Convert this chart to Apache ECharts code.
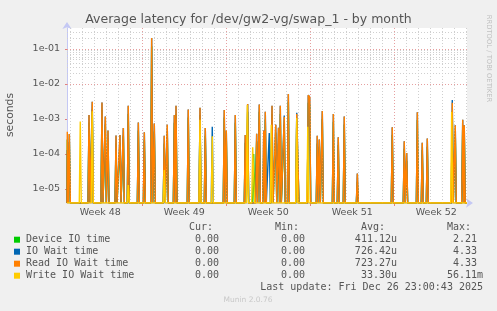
<!DOCTYPE html>
<html><head><meta charset="utf-8">
<script src="https://cdn.jsdelivr.net/npm/echarts@6/dist/echarts.min.js"></script>
<style>html,body{margin:0;padding:0;background:#f0f0f0;}#c{width:497px;height:311px;}</style>
</head><body><div id="c"></div>
<script>
// ---- texts ----
const TITLE = 'Average latency for /dev/gw2-vg/swap_1 - by month';
const Y_NAME = 'seconds';
const SIDE_TEXT = 'RRDTOOL / TOBI OETIKER';
const FOOTER = 'Munin 2.0.76';
const LAST_UPDATE = 'Last update: Fri Dec 26 23:00:43 2025';

// ---- x axis (days since Monday of week 48) ----
const X_MIN = 0.725, X_MAX = 34.058;
const weekLabels = ['Week 48', 'Week 49', 'Week 50', 'Week 51', 'Week 52'];
const weekLabelPos = [3.5, 10.5, 17.5, 24.5, 31.5];
const weekBoundaries = [7, 14, 21, 28];
const dayLines = [1, 2, 3, 4, 5, 6, 8, 9, 10, 11, 12, 13, 15, 16, 17, 18, 19, 20, 22, 23, 24, 25, 26, 27, 29, 30, 31, 32, 33, 34];

// ---- y axis (log) ----
const Y_MIN = 3.981e-6, Y_MAX = 0.3981;
const yTickValues = [1e-5, 1e-4, 1e-3, 1e-2, 1e-1];
const yTickLabels = ['1e-05', '1e-04', '1e-03', '1e-02', '1e-01'];
const yMinorLines = [5e-6, 6e-6, 7e-6, 8e-6, 9e-6,
  2e-5, 3e-5, 4e-5, 5e-5, 6e-5, 7e-5, 8e-5, 9e-5,
  2e-4, 3e-4, 4e-4, 5e-4, 6e-4, 7e-4, 8e-4, 9e-4,
  2e-3, 3e-3, 4e-3, 5e-3, 6e-3, 7e-3, 8e-3, 9e-3,
  2e-2, 3e-2, 4e-2, 5e-2, 6e-2, 7e-2, 8e-2, 9e-2,
  2e-1, 3e-1];

// ---- series (non-zero samples; all other samples are 0) ----
const readDays = [0.75, 0.92, 2.56, 2.83, 3.64, 3.92, 4.14, 4.81, 5.14, 5.42,
  5.83, 6.67, 7.17, 7.78, 8.00, 8.83, 9.08, 9.67, 9.81, 10.83,
  11.81, 12.25, 13.83, 14.00, 14.75, 15.58, 15.78, 16.53, 16.75, 17.12,
  17.25, 17.81, 18.12, 18.35, 18.50, 18.83, 19.17, 19.87, 19.97, 20.83,
  20.95, 21.58, 21.75, 22.00, 22.92, 23.33, 23.83, 24.92, 27.83, 28.83,
  29.03, 29.92, 30.33, 30.75, 32.83, 33.08, 33.70, 33.83];
const readVals = [4.3e-4, 3.7e-4, 1.3e-3, 3.1e-3, 2.95e-3, 1.17e-3, 4.7e-4, 3.4e-4, 3.5e-4, 5.5e-4,
  2.4e-3, 7.9e-4, 4.2e-4, 0.205, 7.4e-4, 3.3e-4, 6.9e-4, 1.3e-3, 2.4e-3, 1.86e-3,
  2.1e-3, 5.5e-4, 1.8e-3, 4.7e-4, 1.3e-3, 3.5e-4, 2.7e-3, 3.8e-4, 2.6e-3, 4.7e-4,
  1.6e-3, 2.4e-3, 6.9e-4, 5.6e-4, 2.4e-3, 1.15e-3, 5.2e-3, 1.4e-3, 1.4e-3, 4.8e-3,
  4.2e-3, 3.3e-4, 2.6e-4, 1.7e-3, 1.4e-3, 3.0e-4, 1.17e-3, 2.75e-5, 5.8e-4, 2.3e-4,
  1.07e-4, 1.55e-3, 2.1e-4, 2.75e-4, 2.9e-3, 6.6e-4, 9.5e-4, 6.6e-4];

const deviceDays = [0.75, 0.92, 2.56, 2.83, 3.64, 3.92, 4.14, 4.81, 5.14, 5.42,
  5.83, 6.67, 7.17, 7.78, 8.00, 8.83, 9.08, 9.67, 9.81, 10.83,
  11.81, 12.25, 13.83, 14.00, 14.75, 15.58, 15.78, 16.28, 16.53, 16.75, 17.12,
  17.25, 17.81, 18.12, 18.35, 18.50, 18.83, 19.17, 19.87, 19.97, 20.83,
  20.95, 21.58, 21.75, 22.00, 22.92, 23.33, 23.83, 24.92, 27.83, 28.83,
  29.03, 29.92, 30.33, 30.75, 32.83, 33.08, 33.70, 33.83];
const deviceVals = [2.6e-4, 2.2e-4, 8e-4, 1.9e-3, 1.8e-3, 7e-4, 2.8e-4, 2e-4, 2.1e-4, 3.3e-4,
  1.4e-3, 4.7e-4, 2.5e-4, 0.12, 4.4e-4, 2e-4, 4.1e-4, 7.8e-4, 1.4e-3, 1.1e-3,
  1.3e-3, 3.3e-4, 1.1e-3, 2.8e-4, 7.8e-4, 2.1e-4, 1.6e-3, 1.0e-4, 2.3e-4, 1.6e-3, 1.2e-4,
  9.6e-4, 1.4e-3, 4.1e-4, 2.0e-4, 1.4e-3, 6.9e-4, 3.1e-3, 8.4e-4, 8.4e-4, 2.9e-3,
  2.5e-3, 2e-4, 1.6e-4, 1e-3, 8.4e-4, 1.8e-4, 7e-4, 1.6e-5, 3.5e-4, 1.4e-4,
  6.4e-5, 9.3e-4, 1.3e-4, 1.6e-4, 1.7e-3, 4e-4, 5.7e-4, 4e-4];

const ioWaitDays = [0.75, 0.83, 0.92, 2.56, 2.83, 3.64, 3.92, 4.14, 4.81, 5.14, 5.42,
  5.83, 6.67, 7.17, 7.78, 8.00, 8.83, 9.08, 9.67, 9.81, 10.83,
  11.81, 12.25, 12.83, 13.83, 14.00, 14.75, 15.58, 15.78, 16.53, 16.75, 17.12,
  17.25, 17.58, 17.81, 18.12, 18.35, 18.50, 18.83, 19.17, 19.87, 19.97, 20.83,
  20.95, 21.58, 21.75, 22.00, 22.92, 23.33, 23.83, 24.92, 27.83, 28.83,
  29.03, 29.92, 30.33, 30.75, 32.83, 33.08, 33.70, 33.83];
const ioWaitVals = [1.3e-4, 8e-6, 3.7e-4, 1.3e-3, 3.1e-3, 2.95e-3, 1.17e-3, 4.7e-4, 3.4e-4, 3.5e-4, 5.5e-4,
  2.4e-3, 7.9e-4, 4.2e-4, 0.205, 7.4e-4, 3.3e-4, 6.9e-4, 1.3e-3, 2.4e-3, 1.86e-3,
  2.1e-3, 5.5e-4, 6.0e-4, 1.8e-3, 4.7e-4, 1.3e-3, 3.5e-4, 2.7e-3, 3.8e-4, 2.6e-3, 4.7e-4,
  1.6e-3, 4.0e-4, 2.4e-3, 6.9e-4, 5.6e-4, 2.4e-3, 1.25e-3, 5.2e-3, 1.5e-3, 1.4e-3, 4.8e-3,
  4.2e-3, 3.3e-4, 2.6e-4, 1.7e-3, 1.4e-3, 3.0e-4, 1.17e-3, 2.75e-5, 5.8e-4, 2.3e-4,
  1.07e-4, 1.55e-3, 2.1e-4, 2.75e-4, 3.5e-3, 6.6e-4, 9.5e-4, 6.6e-4];

const writeDays = [1.83, 2.83, 5.83, 8.83, 11.81, 12.83, 15.75, 16.20, 16.28, 17.75, 19.87, 20.79, 32.78];
const writeVals = [8.5e-4, 1.66e-3, 1.3e-5, 3.5e-5, 9.5e-4, 3.2e-4, 2.5e-3, 1.55e-4, 1.55e-4, 6.9e-4, 1.07e-3, 6.0e-4, 1.6e-3];

// ---- legend ----
const legendNames = ['Device IO time', 'IO Wait time', 'Read IO Wait time', 'Write IO Wait time'];
const legendColors = ['#00cc00', '#0066b3', '#ff8000', '#ffcc00'];
const curVals = ['0.00', '0.00', '0.00', '0.00'];
const minVals = ['0.00', '0.00', '0.00', '0.00'];
const avgVals = ['411.12u', '726.42u', '723.27u', '33.30u'];
const maxVals = ['2.21', '4.33', '4.33', '56.11m'];
const colHeaders = ['Cur:', 'Min:', 'Avg:', 'Max:'];

// ---- build ----
const STEP = 1 / 12; // one sample = 2 hours
const ZERO = Y_MIN;  // zero is drawn on the bottom edge of the log plot
function build(days, vals) {
  const pts = [[X_MIN, ZERO]];
  let prev = null;
  for (let i = 0; i < days.length; i++) {
    const d = days[i];
    if (prev === null || d - prev > 1.5 * STEP) {
      if (prev !== null) pts.push([prev + STEP, ZERO]);
      pts.push([d - STEP, ZERO]);
    }
    pts.push([d, vals[i]]);
    prev = d;
  }
  if (prev !== null) pts.push([prev + STEP, ZERO]);
  pts.push([X_MAX, ZERO]);
  return pts;
}

const GRID = {left: 67, top: 28, width: 400, height: 175};
const minorStyle = {color: '#cfcfcf', width: 1, type: [1, 2]};
const majorStyle = {color: '#e6a0a0', width: 1, type: [1, 2]};
const gridLines = [];
dayLines.forEach(d => gridLines.push({xAxis: d, lineStyle: minorStyle}));
yMinorLines.forEach(v => gridLines.push({yAxis: v, lineStyle: minorStyle}));
weekBoundaries.forEach(d => gridLines.push({xAxis: d, lineStyle: majorStyle}));
yTickValues.forEach(v => gridLines.push({yAxis: v, lineStyle: majorStyle}));

const seriesDefs = [
  [deviceDays, deviceVals], [ioWaitDays, ioWaitVals], [readDays, readVals], [writeDays, writeVals]
];
const series = seriesDefs.map((s, i) => ({
  type: 'line', name: legendNames[i], data: build(s[0], s[1]),
  symbol: 'none', showSymbol: false, clip: true, z: 3 + i,
  lineStyle: {width: 1.4, color: legendColors[i]}, emphasis: {disabled: true}
}));
series.unshift({
  type: 'line', data: [], z: 1, silent: true,
  markLine: {silent: true, symbol: 'none', animation: false, label: {show: false}, data: gridLines}
});

// graphic texts
const FONT = '"DejaVu Sans", sans-serif';
const MONO = '"DejaVu Sans Mono", monospace';
const TXT = '#555555';
const graphics = [];
graphics.push({type: 'text', x: 248.5, y: 19.5, style: {text: TITLE, font: '12.5px ' + FONT, fill: TXT, align: 'center', verticalAlign: 'middle'}});
graphics.push({type: 'text', x: 10.5, y: 115, rotation: Math.PI / 2, style: {text: Y_NAME, font: '10.8px ' + FONT, fill: TXT, align: 'center', verticalAlign: 'middle'}});
graphics.push({type: 'text', x: 488.5, y: 58.5, rotation: -Math.PI / 2, style: {text: SIDE_TEXT, font: '6.8px ' + FONT, fill: '#c0c0c0', align: 'center', verticalAlign: 'middle'}});
graphics.push({type: 'text', x: 248, y: 300, style: {text: FOOTER, font: '7.5px ' + FONT, fill: '#c8c8c8', align: 'center', verticalAlign: 'middle'}});
const colEdges = [225, 311, 397, 483];
const HEADER_Y = 227.7, ROW0 = 239.7, ROW_H = 12;
colHeaders.forEach((h, c) => graphics.push({type: 'text', x: colEdges[c] - 12, y: HEADER_Y, style: {text: h, font: '10px ' + MONO, fill: TXT, align: 'right', verticalAlign: 'middle'}}));
const cols = [curVals, minVals, avgVals, maxVals];
legendNames.forEach((name, r) => {
  const y = ROW0 + r * ROW_H;
  graphics.push({type: 'rect', shape: {x: 14, y: y - 3, width: 6, height: 6}, style: {fill: legendColors[r]}});
  graphics.push({type: 'text', x: 26, y: y, style: {text: name, font: '10px ' + MONO, fill: TXT, align: 'left', verticalAlign: 'middle'}});
  cols.forEach((arr, c) => {
    const v = arr[r];
    const hasUnit = /[a-zA-Z]$/.test(v);
    graphics.push({type: 'text', x: colEdges[c] - (hasUnit ? 0 : 6), y: y, style: {text: v, font: '10px ' + MONO, fill: TXT, align: 'right', verticalAlign: 'middle'}});
  });
});
graphics.push({type: 'text', x: 483, y: ROW0 + 4 * ROW_H, style: {text: LAST_UPDATE, font: '10px ' + MONO, fill: TXT, align: 'right', verticalAlign: 'middle'}});

const AXIS_COLOR = '#c4c8f4';
const option = {
  animation: false,
  backgroundColor: '#f0f0f0',
  grid: Object.assign({backgroundColor: '#ffffff', show: true, borderWidth: 0}, GRID),
  xAxis: {
    type: 'value', min: X_MIN, max: X_MAX,
    axisLine: {show: true, onZero: false, lineStyle: {color: AXIS_COLOR, width: 1}, symbol: ['none', 'arrow'], symbolSize: [7, 7], symbolOffset: [0, 6]},
    axisTick: {show: true, customValues: weekBoundaries, length: 3, lineStyle: {color: '#e08080'}},
    axisLabel: {show: true, customValues: weekLabelPos, margin: 5, color: TXT, fontFamily: 'DejaVu Sans', fontSize: 9.5,
      formatter: v => { const i = weekLabelPos.findIndex(p => Math.abs(p - v) < 1e-6); return i >= 0 ? weekLabels[i] : ''; }},
    splitLine: {show: false}
  },
  yAxis: {
    type: 'log', logBase: 10, min: Y_MIN, max: Y_MAX,
    axisLine: {show: true, onZero: false, lineStyle: {color: AXIS_COLOR, width: 1}, symbol: ['none', 'arrow'], symbolSize: [7, 7], symbolOffset: [0, 6]},
    axisTick: {show: true, customValues: yTickValues, length: 2, lineStyle: {color: '#e08080'}},
    axisLabel: {show: true, customValues: yTickValues, margin: 7, color: TXT, fontFamily: 'DejaVu Sans', fontSize: 9.5,
      formatter: v => { const i = yTickValues.findIndex(p => Math.abs(Math.log10(p) - Math.log10(v)) < 1e-6); return i >= 0 ? yTickLabels[i] : ''; }},
    splitLine: {show: false}
  },
  series: series,
  graphic: {elements: graphics}
};
const chart = echarts.init(document.getElementById('c'), null, {renderer: 'canvas'});
chart.setOption(option);
</script></body></html>
